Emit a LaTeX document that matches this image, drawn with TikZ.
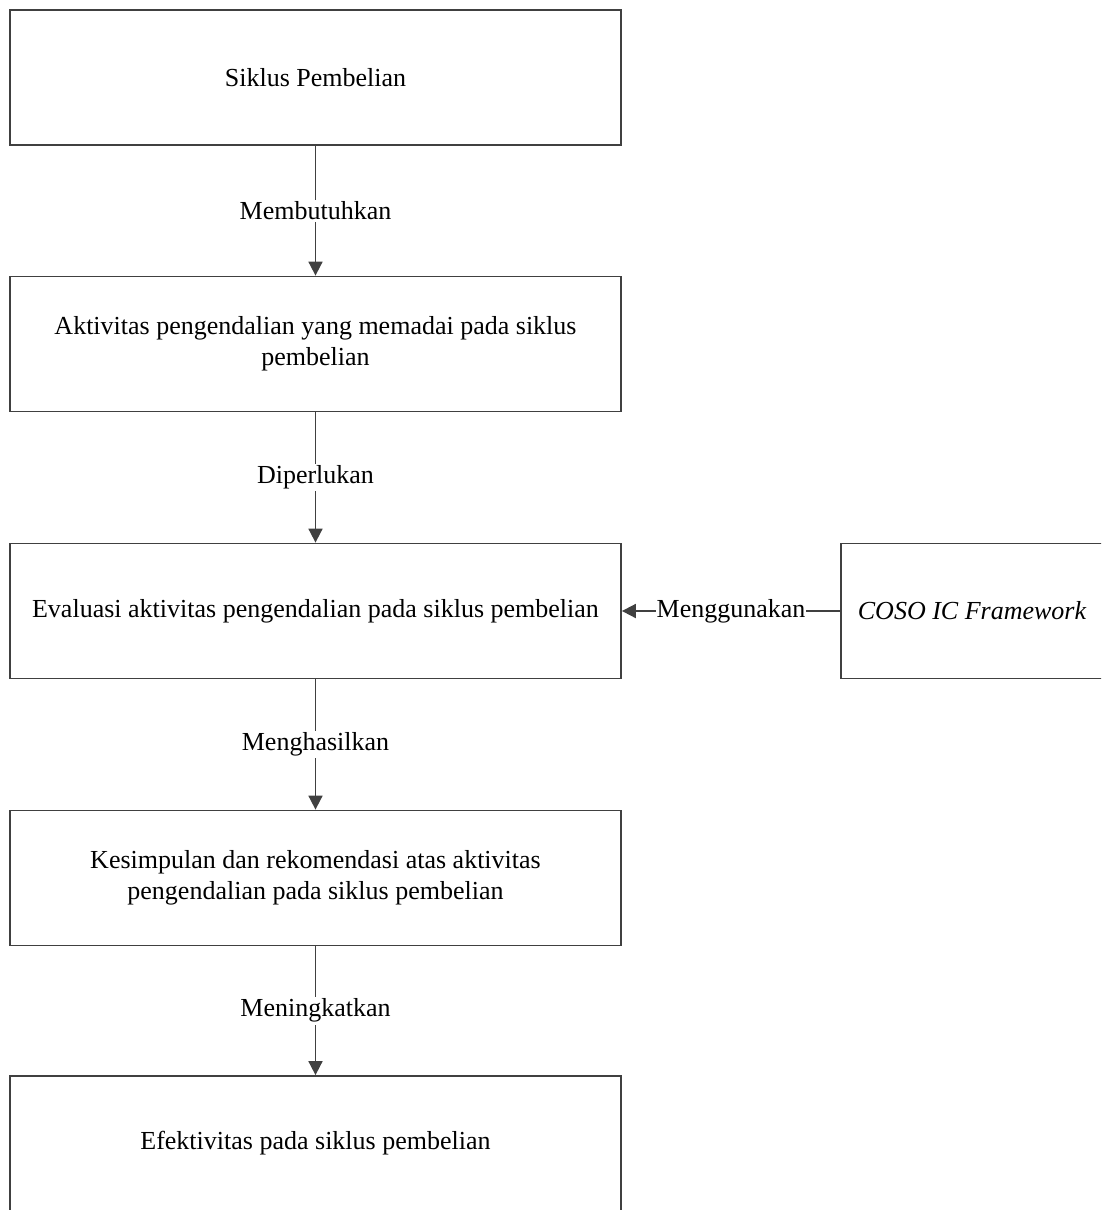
\documentclass[tikz,border=0pt]{standalone}
\usepackage{fontspec}
\setmainfont{Liberation Serif}
\usetikzlibrary{arrows.meta}
\begin{document}
\begin{tikzpicture}[x=1pt,y=-1pt,
  box/.style={draw=black!75, line width=1.8pt, minimum width=611pt, minimum height=135pt, align=center, inner sep=0pt, font=\fontsize{26}{31}\selectfont},
  conn/.style={draw=black!75, line width=1.8pt},
  arr/.style={conn, -{Triangle[width=14pt,length=14pt]}},
  lbl/.style={fill=white, inner sep=2pt, font=\fontsize{26}{29}\selectfont}
]
\clip (0,0) rectangle (1101,1210);
\useasboundingbox (0,0) rectangle (1101,1210);
\node[box] (b1) at (315.5,77.5) {Siklus Pembelian};
\node[box] (b2) at (315.5,344) {Aktivitas pengendalian yang memadai pada siklus\\pembelian};
\node[box] (b3) at (315.5,611) {Evaluasi aktivitas pengendalian pada siklus pembelian};
\node[box] (b4) at (315.5,878) {Kesimpulan dan rekomendasi atas aktivitas\\pengendalian pada siklus pembelian};
\node[box] (b5) at (315.5,1143.5) {Efektivitas pada siklus pembelian};
\node[box, minimum width=262pt] (coso) at (972,611) {\itshape COSO IC Framework};
\draw[arr] (b1) -- node[lbl] {Membutuhkan} (b2);
\draw[arr] (b2) -- node[lbl] {Diperlukan} (b3);
\draw[arr] (b3) -- node[lbl] {Menghasilkan} (b4);
\draw[arr] (b4) -- node[lbl] {Meningkatkan} (b5);
\draw[arr] (coso) -- node[lbl, inner xsep=1pt] {Menggunakan} (b3);
\end{tikzpicture}
\end{document}
